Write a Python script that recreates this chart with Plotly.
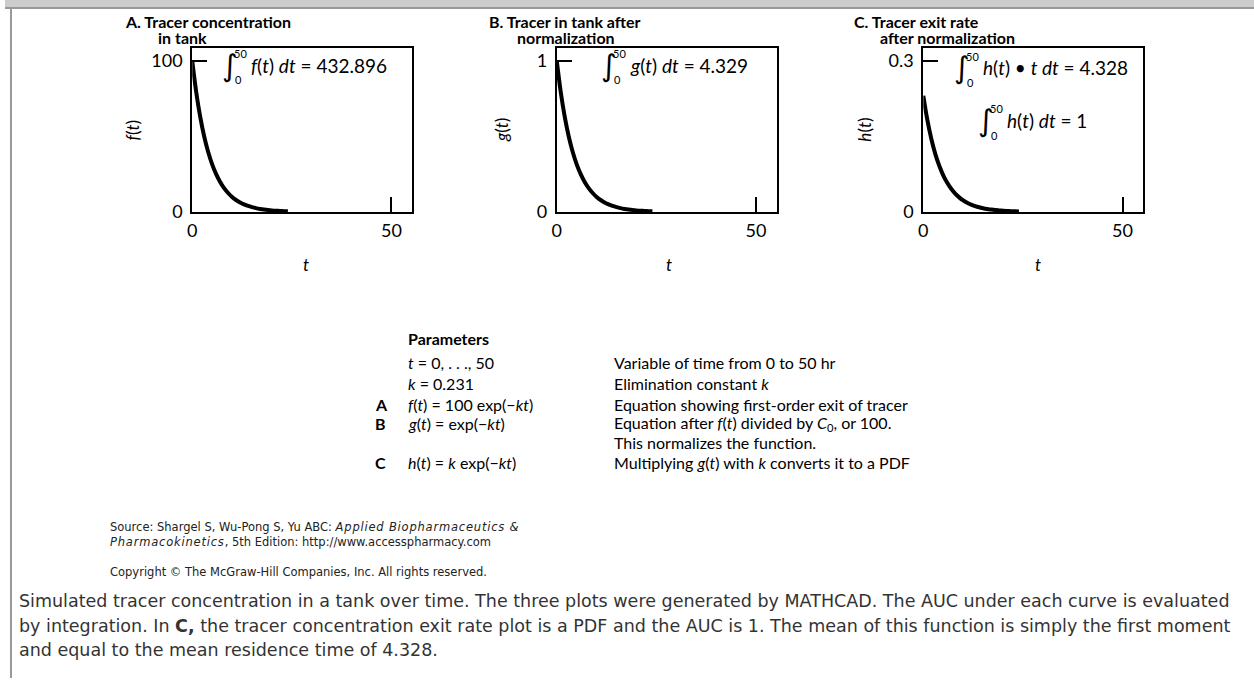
import plotly.graph_objects as go

# Time points (hr) at which the decay curves are drawn
t_hr = list(range(0, 25))

# A: tracer concentration in tank, f(t) = 100 exp(-0.231 t)
f_conc = [100.0, 79.37, 63.00, 50.01, 39.69, 31.51, 25.01, 19.85, 15.76, 12.51,
          9.93, 7.88, 6.25, 4.96, 3.94, 3.13, 2.48, 1.97, 1.56, 1.24,
          0.99, 0.78, 0.62, 0.49, 0.39]
# B: normalized tracer, g(t) = exp(-0.231 t)
g_norm = [1.0, 0.7937, 0.6300, 0.5001, 0.3969, 0.3151, 0.2501, 0.1985, 0.1576, 0.1251,
          0.0993, 0.0788, 0.0625, 0.0496, 0.0394, 0.0313, 0.0248, 0.0197, 0.0156, 0.0124,
          0.0099, 0.0078, 0.0062, 0.0049, 0.0039]
# C: normalized exit rate, h(t) = 0.231 exp(-0.231 t)
h_rate = [0.2310, 0.1834, 0.1455, 0.1155, 0.0917, 0.0728, 0.0578, 0.0459, 0.0364, 0.0289,
          0.0229, 0.0182, 0.0144, 0.0115, 0.0091, 0.0072, 0.0057, 0.0046, 0.0036, 0.0029,
          0.0023, 0.0018, 0.0014, 0.0011, 0.0009]

x_tick_vals = [0, 50]
y_tick_vals_a = [0, 100]
y_tick_vals_b = [0, 1]
y_tick_vals_c = [0, 0.3]
y_tick_text_a = ["0", "100"]
y_tick_text_b = ["0", "1"]
y_tick_text_c = ["0", "0.3"]

W, H = 1254, 688
FONT = "Lato"
WEB = "DejaVu Sans"


def px(x):
    return x / W


def py(y):
    return 1 - y / H


# plot boxes (px) and value ranges; the upper tick sits 13 px below the box top
BOX_TOP, BOX_BOT = 49, 215
panels = [
    dict(x0=188, x1=409, y=f_conc, ytv=y_tick_vals_a, ytt=y_tick_text_a, ymax=108.5),
    dict(x0=554, x1=775, y=g_norm, ytv=y_tick_vals_b, ytt=y_tick_text_b, ymax=1.085),
    dict(x0=922, x1=1143, y=h_rate, ytv=y_tick_vals_c, ytt=y_tick_text_c, ymax=0.3255),
]

fig = go.Figure()
layout = dict(
    width=W, height=H,
    margin=dict(l=0, r=0, t=0, b=0),
    paper_bgcolor="white", plot_bgcolor="white",
    showlegend=False,
)

for i, p in enumerate(panels, start=1):
    sx = "" if i == 1 else str(i)
    fig.add_trace(go.Scatter(
        x=t_hr, y=p["y"], mode="lines",
        line=dict(color="black", width=4, shape="spline"),
        xaxis="x" + sx, yaxis="y" + sx, hoverinfo="skip",
    ))
    axis_common = dict(
        showline=True, mirror=True, linecolor="black", linewidth=2,
        ticks="inside", ticklen=15, tickwidth=2, tickcolor="black",
        showgrid=False, zeroline=False,
        tickfont=dict(family=FONT, size=18, color="black"),
        fixedrange=True,
    )
    layout["xaxis" + sx] = dict(
        axis_common, domain=[px(p["x0"]), px(p["x1"])], range=[0, 55.25],
        tickvals=x_tick_vals, ticktext=[str(v) for v in x_tick_vals],
        anchor="y" + sx, ticklabelstandoff=2,
    )
    layout["yaxis" + sx] = dict(
        axis_common, domain=[py(BOX_BOT), py(BOX_TOP)], range=[0, p["ymax"]],
        tickvals=p["ytv"], ticktext=p["ytt"],
        anchor="x" + sx, ticklabelstandoff=4,
    )

fig.update_layout(**layout)

annotations = []


def text(s, x, y, size=19, family=FONT, anchor="left", angle=0, color="black"):
    annotations.append(dict(
        text=s, x=px(x), y=py(y), xref="paper", yref="paper",
        xanchor=anchor, yanchor="middle", showarrow=False, textangle=angle,
        borderpad=0, font=dict(family=family, size=size, color=color),
    ))


# panel titles
text("<b>A. Tracer concentration</b>", 119, 22, size=16)
text("<b>in tank</b>", 153, 38, size=16)
text("<b>B. Tracer in tank after</b>", 485, 22, size=16)
text("<b>normalization</b>", 513, 38, size=16)
text("<b>C. Tracer exit rate</b>", 851, 22, size=16)
text("<b>after normalization</b>", 878, 38, size=16)

# axis titles
for xc, lab in [(128, "f"), (498, "g"), (863, "h")]:
    text("<i>%s</i>(<i>t</i>)" % lab, xc, 132, size=17, anchor="center", angle=-90)
for xc in [302, 667, 1037]:
    text("<i>t</i>", xc, 268, size=17, anchor="center")


def integral(x, y, body):
    text("∫", x, y, size=30, family="DejaVu Sans", anchor="left")
    text("50", x + 12, y - 12, size=11)
    text("0", x + 13, y + 15, size=11)
    text(body, x + 29, y, size=19)


integral(217, 66, "<i>f</i>(<i>t</i>) <i>dt</i> = 432.896")
integral(597, 66, "<i>g</i>(<i>t</i>) <i>dt</i> = 4.329")
integral(952, 69, "<i>h</i>(<i>t</i>) • <i>t dt</i> = 4.328")
integral(976, 122, "<i>h</i>(<i>t</i>) <i>dt</i> = 1")

# parameter table
LX, RX, TX = 404, 610, 370
text("<b>Parameters</b>", LX, 343, size=16)
rows = [
    (368, "", "<i>t</i> = 0, . . ., 50", "Variable of time from 0 to 50 hr"),
    (389, "", "<i>k</i> = 0.231", "Elimination constant <i>k</i>"),
    (410, "A", "<i>f</i>(<i>t</i>) = 100 exp(−<i>kt</i>)", "Equation showing first-order exit of tracer"),
    (430, "B", "<i>g</i>(<i>t</i>) = exp(−<i>kt</i>)",
     "Equation after <i>f</i>(<i>t</i>) divided by <i>C</i><sub>0</sub>, or 100."),
    (449, "", "", "This normalizes the function."),
    (469, "C", "<i>h</i>(<i>t</i>) = <i>k</i> exp(−<i>kt</i>)",
     "Multiplying <i>g</i>(<i>t</i>) with <i>k</i> converts it to a PDF"),
]
for y, tag, eq, desc in rows:
    if tag:
        text("<b>%s</b>" % tag, TX, y, size=16)
    if eq:
        text(eq, LX, y, size=16)
    text(desc, RX, y, size=16)

# source and copyright lines (italic book title set a little wider)
WIDE = '<span style="letter-spacing:0.8px"><i>%s</i></span>'
text("Source: Shargel S, Wu-Pong S, Yu ABC: " + WIDE % "Applied Biopharmaceutics &amp;", 104, 535,
     size=11.5, family=WEB, color="#222222")
text(WIDE % "Pharmacokinetics" + ", 5th Edition: http://www.accesspharmacy.com", 104, 550,
     size=11.5, family=WEB, color="#222222")
text("Copyright © The McGraw-Hill Companies, Inc. All rights reserved.", 104, 580,
     size=11.5, family=WEB, color="#222222")

caption = [
    "Simulated tracer concentration in a tank over time. The three plots were generated by MATHCAD. "
    "The AUC under each curve is evaluated",
    "by integration. In <b>C,</b> the tracer concentration exit rate plot is a PDF and the AUC is 1. "
    "The mean of this function is simply the first moment",
    "and equal to the mean residence time of 4.328.",
]
for j, line in enumerate(caption):
    text(line, 13, 610 + 25 * j, size=17.5, family=WEB, color="#333333")

fig.update_layout(annotations=annotations)

# page frame: grey band along the top and a rule down the left side
fig.add_shape(type="rect", xref="paper", yref="paper", x0=0, x1=1, y0=py(8), y1=1,
              fillcolor="#cccccc", line=dict(width=0), layer="below")
fig.add_shape(type="line", xref="paper", yref="paper", x0=0, x1=1, y0=py(8), y1=py(8),
              line=dict(color="#999999", width=2))
fig.add_shape(type="line", xref="paper", yref="paper", x0=px(6), x1=px(6), y0=0, y1=py(8),
              line=dict(color="#999999", width=2))

fig.write_html("out.html", config={"displayModeBar": False})
